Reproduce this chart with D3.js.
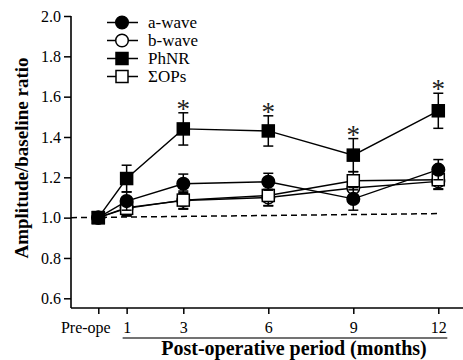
<!DOCTYPE html>
<html>
<head>
<meta charset="utf-8">
<script src="https://cdn.jsdelivr.net/npm/d3@7"></script>
<style>
  body { margin: 0; background: #fff; }
  svg text { font-family: "Liberation Serif", "Times New Roman", serif; }
</style>
</head>
<body>
<div id="chart"></div>
<script>
// months after surgery (0 = pre-operative)
const months = [0, 1, 3, 6, 9, 12];
const tickLabels = ["Pre-ope", "1", "3", "6", "9", "12"];

const aWave = [1.0, 1.082, 1.168, 1.178, 1.093, 1.238];
const aWaveErr = [0, 0.045, 0.048, 0.042, 0.056, 0.05];
const bWave = [1.0, 1.05, 1.085, 1.1, 1.147, 1.18];
const bWaveErr = [0, 0.04, 0.04, 0.04, 0.04, 0.04];
const phnr = [1.0, 1.194, 1.44, 1.43, 1.31, 1.53];
const phnrErr = [0, 0.066, 0.08, 0.075, 0.082, 0.087];
const sumOPs = [1.0, 1.046, 1.087, 1.11, 1.183, 1.188];
const sumOPsErr = [0, 0.038, 0.045, 0.052, 0.045, 0.045];

const significant = [3, 6, 9, 12];
const baseline = [1.0, 1.02];   // dashed reference line, left to right
const yTicks = [0.6, 0.8, 1.0, 1.2, 1.4, 1.6, 1.8, 2.0];

const series = [
  {name: "b-wave", values: bWave, err: bWaveErr, shape: "circle", fill: "#fff"},
  {name: "ΣOPs", values: sumOPs, err: sumOPsErr, shape: "square", fill: "#fff"},
  {name: "a-wave", values: aWave, err: aWaveErr, shape: "circle", fill: "#000"},
  {name: "PhNR", values: phnr, err: phnrErr, shape: "square", fill: "#000"}
];
const legendOrder = ["a-wave", "b-wave", "PhNR", "ΣOPs"];

const W = 463, H = 360;
const axLeft = 71, axTop = 16, axBottom = 308;

const svg = d3.select("#chart").append("svg")
  .attr("width", W).attr("height", H);

const x = d3.scaleLinear().domain([0, 12]).range([98.3, 438.3]);
const y = d3.scaleLinear().domain([0.6, 2.0]).range([298.3, axTop]);

// axes lines
svg.append("line").attr("x1", axLeft).attr("x2", axLeft).attr("y1", axTop).attr("y2", axBottom)
  .attr("stroke", "#000").attr("stroke-width", 1.6);
svg.append("line").attr("x1", axLeft).attr("x2", W).attr("y1", axBottom).attr("y2", axBottom)
  .attr("stroke", "#000").attr("stroke-width", 1.6);

// y axis ticks
const yAxis = svg.append("g").attr("transform", `translate(${axLeft},0)`)
  .call(d3.axisLeft(y).tickValues(yTicks).tickFormat(d3.format(".1f")).tickSize(7).tickPadding(3))
  .attr("font-family", null).attr("font-size", null);
yAxis.select(".domain").remove();
yAxis.selectAll("line").attr("stroke-width", 1.5);
yAxis.selectAll("text").style("font-size", "16px").attr("fill", "#000");

// x axis ticks
const xAxis = svg.append("g").attr("transform", `translate(0,${axBottom})`)
  .call(d3.axisBottom(x).tickValues(months).tickFormat((d, i) => tickLabels[i]).tickSize(6).tickPadding(8))
  .attr("font-family", null).attr("font-size", null);
xAxis.select(".domain").remove();
xAxis.selectAll("line").attr("stroke-width", 1.5);
xAxis.selectAll("text").style("font-size", "16px").attr("fill", "#000")
  .attr("dx", (d, i) => i === 0 ? -13 : 0);

// underline for post-operative months
svg.append("line").attr("x1", x(1) - 4).attr("x2", x(12) + 9).attr("y1", 338).attr("y2", 338)
  .attr("stroke", "#444").attr("stroke-width", 1.6);

// axis titles
svg.append("text").attr("x", 294).attr("y", 355).attr("text-anchor", "middle")
  .style("font-size", "20px").style("font-weight", "bold").text("Post-operative period (months)");
svg.append("text").attr("transform", `translate(28,158) rotate(-90)`).attr("text-anchor", "middle")
  .style("font-size", "19px").style("font-weight", "bold").text("Amplitude/baseline ratio");

// dashed baseline
svg.append("line").attr("x1", axLeft).attr("x2", x(12))
  .attr("y1", y(baseline[0])).attr("y2", y(baseline[1]))
  .attr("stroke", "#000").attr("stroke-width", 1.5).attr("stroke-dasharray", "6,4");

const line = d3.line().x((d, i) => x(months[i])).y(d => y(d));

function marker(g, shape, fill, cx, cy) {
  if (shape === "circle") {
    g.append("circle").attr("cx", cx).attr("cy", cy).attr("r", 6.3)
      .attr("fill", fill).attr("stroke", "#000").attr("stroke-width", 1.5);
  } else {
    g.append("rect").attr("x", cx - 6).attr("y", cy - 6).attr("width", 12).attr("height", 12)
      .attr("fill", fill).attr("stroke", "#000").attr("stroke-width", 1.5);
  }
}

series.forEach(s => {
  const g = svg.append("g");
  // error bars
  s.values.forEach((v, i) => {
    if (!s.err[i]) return;
    const cx = x(months[i]);
    g.append("line").attr("x1", cx).attr("x2", cx).attr("y1", y(v + s.err[i])).attr("y2", y(v - s.err[i]))
      .attr("stroke", "#000").attr("stroke-width", 1.5);
    [v + s.err[i], v - s.err[i]].forEach(e => {
      g.append("line").attr("x1", cx - 5).attr("x2", cx + 5).attr("y1", y(e)).attr("y2", y(e))
        .attr("stroke", "#000").attr("stroke-width", 1.5);
    });
  });
  g.append("path").attr("d", line(s.values)).attr("fill", "none")
    .attr("stroke", "#000").attr("stroke-width", 1.4);
  s.values.forEach((v, i) => marker(g, s.shape, s.fill, x(months[i]), y(v)));
});

// significance asterisks over PhNR
significant.forEach(m => {
  const i = months.indexOf(m);
  svg.append("text").attr("x", x(m)).attr("y", y(phnr[i] + phnrErr[i]) + 5)
    .attr("text-anchor", "middle").style("font-size", "27px").attr("fill", "#222").text("*");
});

// legend
const lg = svg.append("g");
legendOrder.forEach((name, k) => {
  const s = series.find(d => d.name === name);
  const ly = 22.5 + k * 18;
  lg.append("line").attr("x1", 107).attr("x2", 138).attr("y1", ly).attr("y2", ly)
    .attr("stroke", "#000").attr("stroke-width", 1.5);
  marker(lg, s.shape, s.fill, 122, ly);
  lg.append("text").attr("x", 148).attr("y", ly + 5).style("font-size", "17px").text(name);
});
</script>
</body>
</html>
